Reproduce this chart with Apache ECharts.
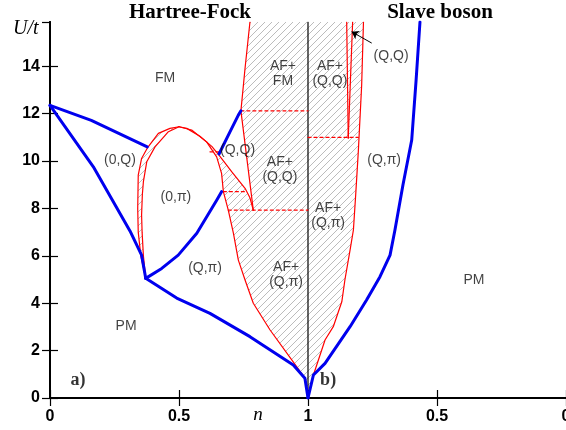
<!DOCTYPE html>
<html>
<head>
<meta charset="utf-8">
<script src="https://cdn.jsdelivr.net/npm/echarts@6/dist/echarts.min.js"></script>
<style>
  html, body { margin: 0; padding: 0; background: #fff; }
  #chart { width: 566px; height: 430px; }
</style>
</head>
<body>
<div id="chart"></div>
<script>
// U/t range, n axis: left half is Hartree-Fock (n 0..1), right half Slave boson (n 1..0)
const U_MAX = 15.87

// ---- Hartree-Fock, points are [n, U/t] ----
const hfBlueFmTop = [[0, 12.35], [0.16, 11.72], [0.377, 10.6]]
const hfBlueZeroQ = [[0, 12.35], [0.168, 9.76], [0.31, 7.05], [0.355, 6.03], [0.371, 5.05]]
const hfBluePM = [[0.371, 5.05], [0.491, 4.22], [0.62, 3.57], [0.775, 2.59], [0.943, 1.39], [0.988, 0.83], [1.0, 0]]
const hfBlueQpi = [[0.371, 5.05], [0.433, 5.47], [0.497, 6.03], [0.569, 6.95], [0.646, 8.35], [0.665, 8.71]]
const hfBlueQQ = [[0.655, 10.3], [0.698, 11.24], [0.73, 11.94], [0.74, 12.12]]

const hfRedLeftOuter = [[0.371, 5.05], [0.352, 6.0], [0.342, 7.0], [0.34, 8.0], [0.342, 9.41], [0.355, 10.11], [0.379, 10.58], [0.42, 11.17], [0.465, 11.38], [0.5, 11.45]]
const hfRedLeftInner = [[0.371, 5.05], [0.362, 6.0], [0.357, 7.0], [0.355, 7.72], [0.358, 8.6], [0.362, 9.13], [0.375, 9.97], [0.407, 10.6], [0.459, 11.24], [0.5, 11.45]]
const hfRedRightOuter = [[0.5, 11.45], [0.53, 11.38], [0.581, 11.05], [0.627, 10.62], [0.655, 10.25], [0.704, 9.55], [0.756, 8.85], [0.775, 8.45], [0.788, 7.93]]
const hfRedRightInner = [[0.5, 11.45], [0.549, 11.31], [0.607, 10.81], [0.646, 10.18], [0.665, 9.48], [0.672, 8.71], [0.691, 7.93], [0.711, 6.95], [0.73, 5.82], [0.756, 4.98], [0.788, 4.0], [0.853, 2.87], [0.956, 1.32], [0.99, 0.8], [1.0, 0]]
const hfRedKink = [[0.775, U_MAX], [0.756, 13.92], [0.74, 12.12], [0.788, 7.93]]

const hfDashes = [
  [[0.74, 12.12], [1, 12.12]],
  [[0.62, 10.39], [0.655, 10.39]],
  [[0.672, 8.71], [0.765, 8.71]],
  [[0.691, 7.93], [1, 7.93]]
]

// ---- Slave boson, points are [n, U/t] ----
const sbBlue = [[1.0, 0], [0.979, 0.97], [0.934, 1.46], [0.837, 3.01], [0.773, 4.14], [0.721, 5.12], [0.682, 6.03], [0.663, 7.09], [0.632, 8.99], [0.598, 10.89], [0.581, 13.42], [0.566, U_MAX]]
const sbRed = [[0.979, 0.97], [0.934, 2.45], [0.902, 3.01], [0.869, 4.06], [0.857, 4.98], [0.837, 6.24], [0.824, 7.09], [0.815, 8.6], [0.805, 10.4], [0.792, 13.2], [0.785, U_MAX]]
const sbQQLeft = [[0.844, 10.97], [0.85, U_MAX]]
const sbQQRight = [[0.844, 10.97], [0.827, U_MAX]]
const sbDash = [[1, 11.0], [0.805, 11.0]]
const sbArrow = [[0.753, 14.98], [0.831, 15.46]]

const xTicks = [0, 0.5, 1, 1.5, 2]
const xTickText = ['0', '0.5', '1', '0.5', '0']

// chart x for each half
const hf = pts => pts.map(p => [p[0], p[1]])
const sb = pts => pts.map(p => [2 - p[0], p[1]])

// hatched (AF+ coexistence) areas
const hatchLeft = [[1, 0], [1, U_MAX]]
  .concat(hf(hfRedKink))
  .concat(hf(hfRedRightOuter).reverse())
  .concat(hf(hfRedLeftOuter).reverse())
  .concat(hf(hfRedLeftInner))
  .concat(hf(hfRedRightInner))
const hatchRight = [[1, 0]].concat(sb(sbRed)).concat([[1, U_MAX]])
const hatchPolys = [hatchLeft, hatchRight]

const labels = [
  { t: 'FM', x: 0.446, y: 13.5 },
  { t: '(0,Q)', x: 0.271, y: 10.04 },
  { t: '(0,π)', x: 0.488, y: 8.48 },
  { t: '(Q,Q)', x: 0.727, y: 10.46 },
  { t: 'AF+\n(Q,Q)', x: 0.891, y: 9.62 },
  { t: 'AF+\nFM', x: 0.903, y: 13.67 },
  { t: 'AF+\n(Q,Q)', x: 1.085, y: 13.67 },
  { t: '(Q,π)', x: 0.601, y: 5.49 },
  { t: 'AF+\n(Q,π)', x: 0.915, y: 5.19 },
  { t: 'AF+\n(Q,π)', x: 1.078, y: 7.68 },
  { t: '(Q,π)', x: 1.295, y: 10.04 },
  { t: '(Q,Q)', x: 1.322, y: 14.43 },
  { t: 'PM', x: 0.295, y: 3.04 },
  { t: 'PM', x: 1.643, y: 4.98 }
]
const panelTags = [
  { t: 'a)', x: 0.109, y: 0.76 },
  { t: 'b)', x: 1.078, y: 0.76 }
]

// diagonal hatch tile
const tile = document.createElement('canvas')
tile.width = 7
tile.height = 7
const g = tile.getContext('2d')
g.strokeStyle = '#b4b4b4'
g.lineWidth = 0.9
g.beginPath()
g.moveTo(0, 7); g.lineTo(7, 0)
g.moveTo(-1, 1); g.lineTo(1, -1)
g.moveTo(6, 8); g.lineTo(8, 6)
g.stroke()

const RED = '#ff0000'
const BLUE = '#0000ee'

function line(data, color, width, type) {
  return {
    type: 'line',
    data: data,
    showSymbol: false,
    symbol: 'none',
    silent: true,
    z: 3,
    lineStyle: { color: color, width: width, type: type || 'solid', cap: 'round', join: 'round' }
  }
}

const series = [
  {
    type: 'custom',
    silent: true,
    z: 1,
    renderItem: function (params, api) {
      const pts = hatchPolys[params.dataIndex].map(p => api.coord(p))
      return { type: 'polygon', shape: { points: pts }, style: { fill: { image: tile, repeat: 'repeat' } } }
    },
    data: hatchPolys.map(p => p[0])
  },
  line([[1, 0], [1, U_MAX]], '#000', 1.2),
  line(hf(hfRedLeftOuter), RED, 1.2),
  line(hf(hfRedLeftInner), RED, 1.2),
  line(hf(hfRedRightOuter), RED, 1.2),
  line(hf(hfRedRightInner), RED, 1.2),
  line(hf(hfRedKink), RED, 1.2),
  line(sb(sbRed), RED, 1.2),
  line(sb(sbQQLeft), RED, 1.2),
  line(sb(sbQQRight), RED, 1.2),
  line(sb(sbDash), RED, 1.2, [3, 3])
]
hfDashes.forEach(d => series.push(line(hf(d), RED, 1.2, [3, 3])))
series.push(
  line(hf(hfBlueFmTop), BLUE, 3),
  line(hf(hfBlueZeroQ), BLUE, 3),
  line(hf(hfBluePM), BLUE, 3),
  line(hf(hfBlueQpi), BLUE, 3),
  line(hf(hfBlueQQ), BLUE, 3),
  line(sb(sbBlue), BLUE, 3)
)
// arrow to the thin (Q,Q) sliver
series.push({
  type: 'line',
  data: [],
  silent: true,
  markLine: {
    silent: true,
    symbol: ['none', 'arrow'],
    symbolSize: 7,
    label: { show: false },
    lineStyle: { color: '#000', width: 1, type: 'solid' },
    data: [[{ coord: sb(sbArrow)[0] }, { coord: sb(sbArrow)[1] }]]
  }
})
series.push({
  type: 'scatter',
  silent: true,
  symbolSize: 0,
  z: 5,
  label: {
    show: true,
    position: 'inside',
    color: '#111',
    fontFamily: 'Liberation Sans',
    fontSize: 14,
    lineHeight: 15,
    formatter: p => p.data.name
  },
  data: labels.map(l => ({ name: l.t, value: [l.x, l.y] }))
})
series.push({
  type: 'scatter',
  silent: true,
  symbolSize: 0,
  z: 5,
  label: {
    show: true,
    position: 'inside',
    color: '#000',
    fontFamily: 'Liberation Serif',
    fontWeight: 'bold',
    fontSize: 18,
    formatter: p => p.data.name
  },
  data: panelTags.map(l => ({ name: l.t, value: [l.x, l.y] }))
})

const chart = echarts.init(document.getElementById('chart'))
const frame = { show: true, lineStyle: { color: '#000', width: 2 } }
const tick = { show: true, inside: true, length: 8, lineStyle: { color: '#000', width: 1.2 } }

chart.setOption({
  animation: false,
  backgroundColor: '#fff',
  grid: { left: 50, right: 0, top: 22, bottom: 32, containLabel: false, outerBoundsMode: 'none' },
  xAxis: [
    {
      type: 'value', min: 0, max: 2, interval: 0.5, position: 'bottom',
      axisLine: frame, axisTick: tick, splitLine: { show: false },
      axisLabel: {
        margin: 11, color: '#000', fontFamily: 'Liberation Sans', fontWeight: 'bold', fontSize: 16,
        formatter: v => xTickText[xTicks.indexOf(v)] || ''
      }
    },
    {
      type: 'value', min: 0, max: 2, interval: 0.5, position: 'top',
      axisLine: frame, axisTick: tick, splitLine: { show: false }, axisLabel: { show: false }
    }
  ],
  yAxis: [
    {
      type: 'value', min: 0, max: U_MAX, interval: 2, position: 'left',
      axisLine: frame, axisTick: tick, splitLine: { show: false },
      axisLabel: {
        margin: 10, color: '#000', fontFamily: 'Liberation Sans', fontWeight: 'bold', fontSize: 16,
        showMaxLabel: false,
        formatter: v => (v % 2 === 0 ? String(v) : '')
      }
    },
    {
      type: 'value', min: 0, max: U_MAX, interval: 2, position: 'right',
      axisLine: frame, axisTick: tick, splitLine: { show: false }, axisLabel: { show: false }
    }
  ],
  graphic: [
    { type: 'text', x: 190, y: 2, style: { text: 'Hartree-Fock', textAlign: 'center', fill: '#000', font: 'bold 21px "Liberation Serif"' } },
    { type: 'text', x: 440, y: 2, style: { text: 'Slave boson', textAlign: 'center', fill: '#000', font: 'bold 21px "Liberation Serif"' } },
    { type: 'text', x: 13, y: 19, style: { text: 'U/t', fill: '#000', font: 'italic 20px "Liberation Serif"' } },
    { type: 'text', x: 258, y: 405, style: { text: 'n', textAlign: 'center', fill: '#000', font: 'italic 19px "Liberation Serif"' } }
  ],
  series: series
})
</script>
</body>
</html>
